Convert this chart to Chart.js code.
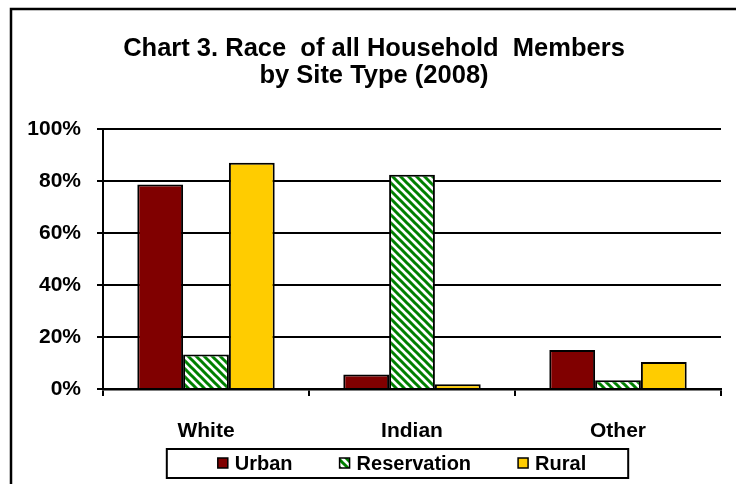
<!DOCTYPE html>
<html><head><meta charset="utf-8">
<script src="https://cdn.jsdelivr.net/npm/chart.js@4"></script>
<style>html,body{margin:0;padding:0;background:#fff}#wrap{width:736px;height:484px}</style>
</head><body><div id="wrap"><canvas id="c" width="736" height="484"></canvas></div>
<script>
const titleLines = ['Chart 3. Race  of all Household  Members', 'by Site Type (2008)'];
const categories = ['White', 'Indian', 'Other'];
const seriesNames = ['Urban', 'Reservation', 'Rural'];
const urban = [78.7, 5.6, 15.0];
const reservation = [13.3, 82.4, 3.4];
const rural = [87.0, 1.8, 10.4];
const yTicks = [0, 20, 40, 60, 80, 100];

const FONT = '"Liberation Sans", Arial, sans-serif';
Chart.defaults.font.family = FONT;
Chart.defaults.color = '#000';

const cv = document.getElementById('c');
const ctx0 = cv.getContext('2d');
function stripePattern() {
  const p = document.createElement('canvas');
  p.width = 8; p.height = 8;
  const g = p.getContext('2d');
  g.fillStyle = '#fff'; g.fillRect(0, 0, 8, 8);
  g.strokeStyle = '#008000'; g.lineWidth = 3;
  g.beginPath();
  g.moveTo(-2, -2); g.lineTo(10, 10);
  g.moveTo(-2, 6); g.lineTo(2, 10);
  g.moveTo(6, -2); g.lineTo(10, 2);
  g.stroke();
  return ctx0.createPattern(p, 'repeat');
}

const framePlugin = {
  id: 'frame',
  beforeDraw(chart) {
    const c = chart.ctx; c.save();
    c.fillStyle = '#fff'; c.fillRect(0, 0, chart.width, chart.height);
    c.strokeStyle = '#000'; c.lineWidth = 2.5;
    c.beginPath();
    c.moveTo(11, chart.height + 5); c.lineTo(11, 9); c.lineTo(chart.width + 5, 9);
    c.stroke();
    c.restore();
  }
};

const legendPlugin = {
  id: 'boxLegend',
  afterDraw(chart) {
    const c = chart.ctx; c.save();
    c.font = 'bold 20px ' + FONT;
    const ds = chart.data.datasets;
    const mk = 10, gapT = 7, gapI = 47;
    const widths = ds.map(d => c.measureText(d.label).width);
    const total = widths.reduce((a, w) => a + mk + gapT + w, 0) + gapI * (ds.length - 1);
    const cx = 402, cy = 463;
    let x = cx - total / 2;
    c.lineWidth = 2; c.strokeStyle = '#000';
    c.strokeRect(x - 51, 449, total + 51 + 42, 29);
    ds.forEach((d, i) => {
      c.fillStyle = d.backgroundColor;
      c.fillRect(x, cy - 5, mk, mk);
      c.lineWidth = 1.5; c.strokeStyle = '#000';
      c.strokeRect(x, cy - 5, mk, mk);
      c.fillStyle = '#000'; c.textBaseline = 'middle'; c.textAlign = 'left';
      c.fillText(d.label, x + mk + gapT, cy + 1);
      x += mk + gapT + widths[i] + gapI;
    });
    c.restore();
  }
};

const colors = ['#800000', stripePattern(), '#FFCC00'];
const seriesData = [urban, reservation, rural];

new Chart(cv, {
  type: 'bar',
  data: {
    labels: categories,
    datasets: seriesNames.map((n, i) => ({
      label: n,
      data: seriesData[i],
      backgroundColor: colors[i],
      borderColor: '#000',
      borderWidth: 2,
      borderSkipped: 'start',
      categoryPercentage: 0.667,
      barPercentage: 1.0
    }))
  },
  options: {
    responsive: false,
    animation: false,
    devicePixelRatio: 1,
    layout: { padding: { left: 27, right: 15, top: 0, bottom: 43 } },
    plugins: {
      legend: { display: false },
      tooltip: { enabled: false },
      title: {
        display: true,
        text: titleLines,
        color: '#000',
        font: { size: 25.5, weight: 'bold', lineHeight: 1.08 },
        padding: { top: 35, bottom: 39 }
      }
    },
    scales: {
      x: {
        offset: true,
        afterFit(s) { s.height = 52; },
        grid: { display: true, drawOnChartArea: false, drawTicks: true, tickLength: 7, color: '#000', lineWidth: 2, offset: true },
        border: { display: true, color: '#000', width: 2.5 },
        ticks: { color: '#000', font: { size: 21, weight: 'bold' }, padding: 23, maxRotation: 0 }
      },
      y: {
        min: 0, max: 100,
        afterFit(s) { s.width = 76; },
        afterBuildTicks(s) { s.ticks = yTicks.map(v => ({ value: v })); },
        grid: { color: '#000', lineWidth: 2, tickLength: 6, drawTicks: true },
        border: { display: true, color: '#000', width: 2 },
        ticks: { color: '#000', font: { size: 21, weight: 'bold' }, padding: 16, callback: v => v + '%' }
      }
    }
  },
  plugins: [framePlugin, legendPlugin]
});
</script></body></html>
